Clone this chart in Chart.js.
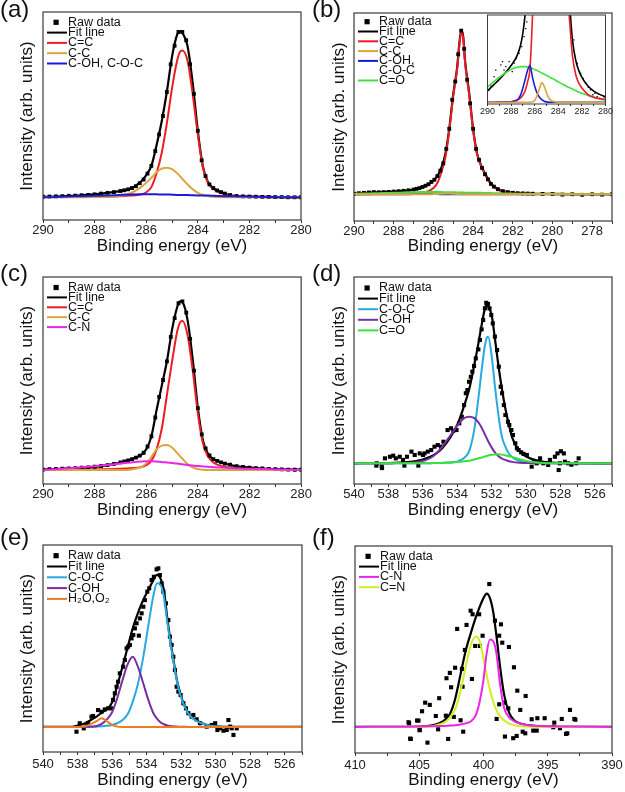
<!DOCTYPE html>
<html>
<head>
<meta charset="utf-8">
<script src="https://cdn.jsdelivr.net/npm/chart.js@4.4.1/dist/chart.umd.min.js"></script>
<style>
  body { margin: 0; background: #fff; }
  #page { position: relative; width: 625px; height: 792px; font-family: 'Liberation Sans', Arial, sans-serif; }
  .box { position: absolute; }
  .tag { position: absolute; font-size: 24px; line-height: 1; color: #111; }
</style>
</head>
<body>
<div id="page">
  <div class="box" style="left:0;top:0;width:312px;height:264px"><canvas id="pa"></canvas></div>
  <div class="box" style="left:312px;top:0;width:313px;height:264px"><canvas id="pb"></canvas></div>
  <div class="box" style="left:480px;top:10px;width:133px;height:112px"><canvas id="pbIn"></canvas></div>
  <div class="box" style="left:0;top:264px;width:312px;height:264px"><canvas id="pc"></canvas></div>
  <div class="box" style="left:312px;top:264px;width:313px;height:264px"><canvas id="pd"></canvas></div>
  <div class="box" style="left:0;top:528px;width:312px;height:264px"><canvas id="pe"></canvas></div>
  <div class="box" style="left:312px;top:528px;width:313px;height:264px"><canvas id="pf"></canvas></div>
  <div class="tag" style="left:0;top:-3px">(a)</div>
  <div class="tag" style="left:312px;top:-3px">(b)</div>
  <div class="tag" style="left:0;top:261px">(c)</div>
  <div class="tag" style="left:312px;top:261px">(d)</div>
  <div class="tag" style="left:0;top:525px">(e)</div>
  <div class="tag" style="left:312px;top:525px">(f)</div>
</div>
<script>
// ---- C 1s, panels (a) and (c): fit grid + raw energies
const eC1s = [290, 289.5, 289, 288.5, 288, 287.5, 287, 286.6, 286.2, 286, 285.8, 285.6, 285.4, 285.2, 285, 284.8, 284.7, 284.6, 284.4, 284.2, 284, 283.8, 283.6, 283.4, 283.2, 283, 282.6, 282.2, 281.5, 281, 280.5, 280];
const rawEAC = [290, 289.75, 289.5, 289.25, 289, 288.75, 288.5, 288.25, 288, 287.75, 287.5, 287.25, 287,
  286.85, 286.7, 286.55, 286.4, 286.25, 286.1, 285.95, 285.8, 285.65, 285.5, 285.35, 285.2, 285.05, 284.9, 284.75, 284.6, 284.45, 284.3, 284.15, 284, 283.85, 283.7, 283.55, 283.4, 283.25, 283.1, 282.95,
  282.75, 282.5, 282.25, 282, 281.75, 281.5, 281.25, 281, 280.75, 280.5, 280.25, 280];

// (a)
const rawA = [.003, .004, .005, .006, .008, .009, .011, .013, .016, .02, .024, .028, .034,
  .038, .043, .05, .06, .076, .096, .128, .17, .25, .34, .44, .57, .72, .82, .895, .895, .85, .72, .56, .36, .2, .115, .07, .05, .037, .028, .02,
  .012, .007, .005, .004, .003, .002, .002, .001, .001, 0, 0, 0];
const fitA = [.002, .004, .007, .011, .016, .024, .033, .047, .085, .12, .17, .28, .41, .57, .76, .88, .9, .89, .82, .62, .36, .165, .08, .05, .034, .022, .007, .004, .002, .001, 0, 0];
const ccA = [.001, .001, .002, .002, .003, .004, .006, .009, .015, .027, .055, .13, .24, .40, .59, .74, .785, .795, .74, .56, .34, .16, .075, .045, .028, .018, .008, .005, .003, .002, .001, .001];
const csA = [0, 0, 0, 0, .001, .003, .008, .022, .055, .078, .105, .135, .155, .16, .152, .13, .116, .10, .07, .043, .024, .012, .006, .003, .001, 0, 0, 0, 0, 0, 0, 0];
const cohA = [0, .002, .004, .006, .008, .01, .013, .015, .016, .016, .016, .016, .015, .015, .014, .013, .013, .012, .012, .011, .01, .009, .009, .008, .007, .006, .005, .004, .002, .001, 0, 0];

// (c)
const rawC = [.002, .004, .005, .007, .008, .01, .012, .014, .017, .021, .026, .032, .04,
  .045, .051, .058, .066, .076, .092, .125, .18, .28, .39, .48, .58, .71, .81, .89, .9, .84, .7, .53, .33, .19, .115, .077, .058, .048, .04, .034,
  .028, .02, .016, .012, .01, .008, .006, .004, .003, .002, .001, .001];
const fitC = [.002, .005, .008, .011, .016, .026, .04, .056, .08, .11, .18, .32, .45, .58, .75, .87, .9, .895, .8, .59, .33, .155, .085, .057, .045, .036, .022, .015, .007, .004, .002, .001];
const ccC = [.001, .001, .002, .002, .003, .004, .006, .009, .015, .025, .05, .11, .22, .40, .58, .74, .785, .797, .72, .53, .30, .14, .07, .04, .026, .018, .009, .005, .003, .002, .001, .001];
const csC = [0, 0, 0, 0, 0, 0, 0, .003, .015, .035, .07, .11, .13, .133, .12, .09, .075, .06, .032, .014, .005, .001, 0, 0, 0, 0, 0, 0, 0, 0, 0, 0];
const cnC = [0, .004, .009, .014, .02, .027, .034, .04, .045, .046, .046, .045, .043, .04, .037, .034, .032, .03, .027, .024, .021, .019, .017, .015, .013, .012, .009, .007, .005, .003, .001, 0];

// (b)
const eB = [290, 289.5, 289, 288.5, 288, 287.5, 287, 286.6, 286.2, 286, 285.8, 285.6, 285.4, 285.2, 285, 284.8, 284.7, 284.6, 284.5, 284.4, 284.2, 284, 283.8, 283.6, 283.4, 283.2, 283, 282.6, 282.2, 281.5, 281, 280, 279, 278, 277];
const fitB = [.002, .007, .01, .012, .015, .019, .025, .037, .058, .075, .1, .145, .22, .36, .55, .70, .82, .9, .87, .73, .56, .36, .225, .16, .115, .075, .048, .02, .011, .005, .003, .002, .001, 0, 0];
const ccB = [0, 0, .001, .001, .002, .003, .005, .008, .02, .034, .062, .12, .2, .35, .54, .69, .81, .89, .86, .72, .55, .355, .22, .155, .11, .07, .044, .018, .01, .004, .002, .001, 0, 0, 0];
const csB = [0, 0, 0, 0, 0, 0, 0, 0, 0, .001, .002, .003, .004, .004, .003, .002, .001, 0, 0, 0, 0, 0, 0, 0, 0, 0, 0, 0, 0, 0, 0, 0, 0, 0, 0];
const cohB = [0, 0, 0, 0, 0, 0, .001, .004, .005, .003, .001, 0, 0, 0, 0, 0, 0, 0, 0, 0, 0, 0, 0, 0, 0, 0, 0, 0, 0, 0, 0, 0, 0, 0, 0];
const coB = [.002, .004, .005, .007, .008, .01, .011, .012, .012, .012, .012, .012, .011, .011, .011, .01, .01, .01, .01, .009, .009, .009, .008, .008, .007, .007, .006, .005, .004, .003, .002, .001, 0, 0, 0];
const rawEB = [290, 289.75, 289.5, 289.25, 289, 288.75, 288.5, 288.25, 288, 287.75, 287.5, 287.25, 287,
  286.85, 286.7, 286.55, 286.4, 286.25, 286.1, 285.95, 285.8, 285.65, 285.5, 285.35, 285.2, 285.05, 284.9, 284.75, 284.6, 284.45, 284.3, 284.15, 284, 283.85, 283.7, 283.55, 283.4, 283.25, 283.1, 282.95,
  282.75, 282.5, 282.25, 282, 281.75, 281.5, 281.25, 281, 280.5, 280, 279.5, 279, 278.5, 278, 277.5, 277];
const rawB = [.003, .006, .008, .01, .012, .011, .012, .013, .015, .017, .019, .022, .026,
  .03, .034, .04, .047, .055, .068, .08, .1, .13, .17, .25, .36, .52, .62, .77, .9, .8, .63, .5, .36, .25, .19, .145, .11, .082, .057, .042,
  .028, .017, .012, .008, .006, .005, .004, .003, .002, .001, -.002, 0, -.003, 0, -.002, 0];

// (b) inset, zoomed intensity units
const eIn = [290, 289.5, 289, 288.5, 288, 287.5, 287.2, 287, 286.8, 286.6, 286.4, 286.2, 286, 285.8, 285.6, 285.4, 285.2, 285, 284.8, 284.6, 284.4, 284.2, 284, 283.6, 283.2, 283, 282.8, 282.5, 282.25, 282, 281.5, 281, 280.5, 280];
const fitIn = [.32, .48, .64, .82, 1.03, 1.3, 1.6, 1.95, 2.5, 3.3, 4.5, 6, 8, 11, 14, 18, 24, 32, 42, 47, 42, 32, 22, 9, 3.8, 2.6, 1.75, 1.15, .88, .7, .46, .31, .22, .15];
const ccIn = [0, 0, .005, .01, .015, .05, .2, .4, .65, .9, 1.03, .72, .45, .26, .14, .07, .03, .01, 0, 0, 0, 0, 0, 0, 0, 0, 0, 0, 0, 0, 0, 0, 0, 0];
const redIn = [0, 0, .005, .01, .015, .06, .12, .2, .33, .58, .95, 2.3, 4.2, 6.5, 10, 15, 20, 30, 40, 45, 40, 30, 20, 8, 3.2, 2.1, 1.3, .75, .53, .4, .22, .14, .1, .075];
const csIn = [0, 0, 0, 0, 0, 0, 0, 0, 0, 0, 0, .01, .05, .18, .38, .55, .45, .26, .12, .05, .02, .005, 0, 0, 0, 0, 0, 0, 0, 0, 0, 0, 0, 0];
const coIn = [.42, .57, .7, .82, .92, .98, 1.0, 1.0, 1.0, .99, .97, .95, .92, .89, .86, .82, .79, .75, .72, .68, .65, .61, .57, .5, .43, .40, .37, .32, .28, .25, .19, .14, .1, .065];
const rawEIn = [289.86, 289.72, 289.44, 289.3, 289.13, 288.87, 288.73, 288.6, 288.45, 288.17, 287.9, 287.75, 287.55, 287.32, 287.1, 286.9, 286.76, 286.67, 282.68, 282.4, 282.1, 281.9, 281.69, 281.46, 281.27, 281.07, 280.9, 280.7, 280.5, 280.28, 280.11, 280.0];
const rawIn = [.35, .46, .72, .9, .67, 1.05, 1.14, .9, 1.0, 1.14, .86, 1.09, 1.23, 1.37, 1.56, 1.84, 2.07, 2.26, 1.75, 1.09, .81, .67, .53, .42, .35, .21, .25, .16, .11, .07, .14, .05];

// (d) O 1s
const eD = [540, 538, 537.6, 537, 536.6, 536.2, 535.8, 535.4, 535, 534.6, 534.2, 533.9, 533.6, 533.3, 533, 532.8, 532.6, 532.4, 532.3, 532.2, 532, 531.8, 531.6, 531.4, 531.2, 531, 530.8, 530.5, 530.1, 529.6, 529, 528, 525];
const fitD = [0, .001, .002, .005, .009, .016, .028, .045, .072, .118, .18, .24, .325, .42, .56, .66, .77, .87, .895, .885, .84, .7, .55, .42, .31, .22, .145, .085, .045, .022, .008, .001, 0];
const cocD = [0, 0, 0, 0, 0, 0, 0, .001, .002, .004, .007, .014, .03, .07, .195, .34, .51, .66, .705, .715, .61, .43, .27, .15, .094, .055, .035, .018, .008, .004, .002, .001, 0];
const ohD = [0, 0, .001, .002, .004, .009, .019, .04, .078, .13, .185, .225, .255, .263, .255, .235, .205, .165, .145, .125, .09, .06, .04, .027, .019, .012, .008, .004, .002, .001, 0, 0, 0];
const coD = [0, 0, 0, 0, 0, 0, 0, .001, .002, .003, .005, .008, .011, .015, .021, .027, .032, .038, .041, .044, .048, .05, .051, .049, .045, .04, .036, .027, .016, .007, .002, 0, 0];
const rawED = [538.7, 538.68, 538.39, 538.37, 538.2, 537.91, 537.72, 537.57, 537.34, 537.15, 537.07, 536.92, 536.66, 536.47, 536.26, 536.22, 536.18, 535.99, 535.9, 535.71,
  535.51, 535.32, 535.13, 534.94, 534.8, 534.56, 534.36, 534.23, 534.04, 533.88, 533.73, 533.6, 533.5, 533.41, 533.31, 533.21, 533.12, 533.02, 532.92, 532.77,
  532.68, 532.58, 532.49, 532.39, 532.31, 532.21, 532.12, 532.02, 531.93, 531.81, 531.68, 531.58, 531.47, 531.39, 531.29, 531.2, 531.05, 530.97, 530.85, 530.76,
  530.62, 530.53, 530.43, 530.28, 530.14, 529.95, 529.67, 529.53, 529.38, 529.18, 528.99, 528.71, 528.61, 528.32, 528.17, 528.1, 528.03, 527.97, 527.8, 527.74,
  527.55, 527.36, 527.08, 526.94];
const rawD = [-.013, 0, -.019, -.027, .028, .037, .043, .028, .037, .019, -.013, .037, .066, .047, -.013, .009, .056, .047, .056, .066,
  .075, .094, .103, .094, .122, .188, .198, .184, .188, .226, .263, .329, .396, .414, .461, .489, .518, .55, .593, .644,
  .697, .757, .81, .876, .907, .9, .876, .838, .791, .716, .64, .546, .433, .396, .329, .273, .235, .216, .188, .16,
  .113, .085, .075, .062, .053, .047, -.019, .009, 0, .028, 0, -.009, .019, .037, .056, -.038, 0, .068, .056, .009,
  0, -.008, 0, .028];

// (e) O 1s
const eE = [540, 538.5, 538, 537.6, 537.2, 536.9, 536.6, 536.3, 536, 535.7, 535.4, 535.1, 534.8, 534.5, 534.2, 533.9, 533.6, 533.4, 533.2, 533, 532.8, 532.5, 532.2, 531.9, 531.6, 531.3, 531, 530.6, 530, 529, 525];
const fitE = [0, 0, .008, .02, .043, .061, .085, .105, .145, .245, .355, .47, .585, .675, .75, .81, .87, .9, .88, .81, .64, .43, .255, .15, .085, .05, .032, .015, .004, 0, 0];
const cocE = [0, 0, 0, 0, 0, .002, .004, .007, .012, .022, .04, .075, .15, .255, .41, .6, .78, .85, .84, .77, .62, .42, .25, .145, .082, .048, .03, .014, .004, 0, 0];
const ohE = [0, 0, 0, .001, .003, .006, .018, .045, .087, .17, .275, .37, .415, .355, .26, .16, .08, .05, .028, .016, .009, .004, .002, .001, 0, 0, 0, 0, 0, 0, 0];
const h2oE = [0, 0, 0, .004, .018, .035, .051, .034, .012, .002, 0, 0, 0, 0, 0, 0, 0, 0, 0, 0, 0, 0, 0, 0, 0, 0, 0, 0, 0, 0, 0];
const rawEE = [538.06, 537.87, 537.64, 537.48, 537.39, 537.19, 537.1, 536.81, 536.61, 536.42, 536.23, 536.03, 535.94, 535.84, 535.74, 535.65, 535.55, 535.36, 535.26, 535.16,
  535.07, 534.97, 534.87, 534.77, 534.68, 534.58, 534.45, 534.39, 534.29, 534.19, 534.1, 533.96, 533.85, 533.71, 533.58, 533.42, 533.32, 533.23, 533.13, 533.03,
  532.88, 532.74, 532.65, 532.55, 532.45, 532.36, 532.26, 532.16, 532.03, 531.87, 531.72, 531.58, 531.39, 531.29, 531.1, 530.91, 530.52, 530.23, 530.03, 529.9,
  529.74, 529.55, 529.36, 529.26, 529.16, 529.07, 528.97, 528.78];
const rawE = [-.028, .022, -.008, .012, .022, .061, .065, .1, .09, .104, .11, .11, .16, .199, .238, .268, .317, .356, .396, .465,
  .475, .485, .524, .544, .583, .613, .54, .642, .672, .711, .75, .80, .82, .869, .888, .932, .938, .898, .849, .80,
  .731, .632, .534, .485, .415, .337, .238, .209, .189, .14, .11, .081, .061, .071, .045, .022, .002, .012, .022, -.018,
  -.008, -.022, -.018, .041, .002, -.008, -.047, -.008];

// (f) N 1s
const eF = [410, 406, 405, 404.4, 403.9, 403.4, 403, 402.6, 402.2, 401.8, 401.4, 401, 400.6, 400.3, 400, 399.75, 399.5, 399.25, 399, 398.7, 398.4, 398, 397.6, 397, 396.4, 395.6, 394, 390];
const fitF = [0, 0, .002, .006, .013, .027, .048, .09, .19, .35, .51, .63, .74, .81, .87, .9, .87, .78, .62, .4, .22, .095, .043, .02, .01, .004, .001, 0];
const cnF = [0, .002, .003, .004, .005, .006, .007, .009, .012, .017, .024, .037, .08, .17, .32, .5, .59, .58, .5, .28, .13, .065, .038, .02, .01, .006, .003, 0];
const cnnF = [0, 0, 0, .001, .006, .018, .032, .065, .12, .24, .4, .55, .61, .58, .46, .35, .25, .17, .115, .07, .045, .022, .012, .004, .001, 0, 0, 0];
const rawEF = [405.84, 405.79, 405.71, 405.66, 405.17, 405.06, 404.98, 404.96, 404.78, 404.54, 404.36, 404.18, 403.71, 403.53, 403.45, 402.93, 402.88, 402.75, 402.62, 402.52,
  402.31, 402.21, 402.05, 401.78, 401.68, 401.63, 401.58, 401.45, 401.32, 401.0, 400.9, 400.85, 400.65, 400.34, 400.28, 400.07, 399.55, 399.11, 398.98, 398.78,
  398.78, 398.64, 398.54, 398.36, 398.33, 398.07, 398.02, 397.69, 397.63, 397.42, 397.37, 397.14, 396.95, 396.75, 396.72, 396.25, 396.13, 395.86, 395.81, 395.24,
  394.57, 394.49, 394.05, 393.91, 393.58, 393.48, 393.27, 392.93, 392.85];
const rawF = [.032, .025, -.079, -.081, .043, .043, -.018, -.022, .106, .164, -.106, .149, .074, -.016, .194, .076, .329, -.081, .365, .268,
  .068, .40, .662, .045, .392, .272, -.032, .52, .689, .785, .324, .761, .547, .761, .547, .616, .965, .718, .054, .616,
  .153, .693, .569, .164, -.065, .126, .54, -.076, .403, -.061, .245, .115, -.032, -.043, .209, .052, -.025, -.025, .059, .059,
  -.002, .029, -.009, .054, -.047, -.043, .115, .054, .049];

const RED = '#ec1c24', TAN = '#dca43c', BLUE = '#1a1ad8', GREEN = '#3ee03e', MAGENTA = '#ec24ec',
  CYAN = '#2aa9e0', PURPLE = '#7a2ea0', ORANGE = '#f07a1e', YELLOW = '#d2ee1e';

Chart.defaults.font.family = "'Liberation Sans', Arial, sans-serif";
Chart.defaults.color = '#111';

const pts = (xs, ys) => xs.map((x, i) => ({ x, y: ys[i] }));

function line(label, xs, ys, color, order, width) {
  return {
    label, data: pts(xs, ys), showLine: true, borderColor: color, backgroundColor: color,
    borderWidth: width || 2, pointRadius: 0, cubicInterpolationMode: 'monotone', order
  };
}
function raw(xs, ys, order, r) {
  return {
    label: 'Raw data', data: pts(xs, ys), showLine: false, pointStyle: 'rect',
    pointRadius: r || 2.7, backgroundColor: '#000', borderWidth: 0, order
  };
}

// full box round the plot area; the inset also gets a white fill
const frame = {
  id: 'frame',
  beforeDraw(chart, args, opts) {
    if (!opts.fill) return;
    const { ctx, chartArea: a } = chart;
    ctx.save();
    ctx.fillStyle = opts.fill;
    ctx.fillRect(a.left, a.top, a.right - a.left, a.bottom - a.top);
    ctx.restore();
  },
  afterDatasetsDraw(chart, args, opts) {
    const { ctx, chartArea: a } = chart;
    ctx.save();
    ctx.strokeStyle = '#3a3a3a';
    ctx.lineWidth = opts.width || 1.2;
    ctx.strokeRect(a.left, a.top, a.right - a.left, a.bottom - a.top);
    ctx.restore();
  }
};

// legend in the top-left corner of the plot, built from the datasets
const keyBox = {
  id: 'keyBox',
  afterDraw(chart, args, opts) {
    if (!opts.show) return;
    const { ctx, chartArea: a } = chart;
    ctx.save();
    ctx.font = "12.5px 'Liberation Sans', Arial, sans-serif";
    ctx.textBaseline = 'middle';
    let row = 0;
    chart.data.datasets.forEach(ds => {
      const lines = ds.label.split('\n');
      const y = a.top + opts.top + row * opts.gap;
      const x0 = a.left + 4;
      if (ds.showLine) {
        ctx.strokeStyle = ds.borderColor;
        ctx.lineWidth = 2;
        ctx.beginPath();
        ctx.moveTo(x0, y);
        ctx.lineTo(x0 + 20, y);
        ctx.stroke();
      } else {
        ctx.fillStyle = '#000';
        ctx.fillRect(x0 + 6.5, y - 2.6, 5.2, 5.2);
      }
      ctx.fillStyle = '#111';
      lines.forEach((t, k) => ctx.fillText(t, x0 + 21, y + k * opts.gap));
      row += lines.length;
    });
    ctx.restore();
  }
};

function panel(id, cfg) {
  const el = document.getElementById(id);
  const W = el.parentNode.clientWidth, H = el.parentNode.clientHeight;
  const a = cfg.area;
  const lab = cfg.labelEvery;
  return new Chart(el, {
    type: 'scatter',
    data: { datasets: cfg.datasets },
    plugins: [frame, keyBox],
    options: {
      responsive: true, maintainAspectRatio: false, animation: false, events: [],
      layout: { padding: { left: 0, top: a.t, right: W - a.r, bottom: 0 } },
      plugins: {
        legend: { display: false }, tooltip: { enabled: false },
        frame: { fill: cfg.fill, width: cfg.small ? 1 : 1.2 },
        keyBox: { show: !cfg.small, top: cfg.keyTop || 10.3, gap: cfg.keyGap || 10.3 }
      },
      scales: {
        x: {
          type: 'linear', reverse: true, min: cfg.x[0], max: cfg.x[1],
          ticks: {
            stepSize: cfg.step, autoSkip: false, maxRotation: 0, padding: cfg.tickPad || 0,
            font: { size: cfg.small ? 9 : 13 }, color: '#222',
            callback: v => (Math.abs(v % lab) < 1e-6 ? v : '')
          },
          grid: { display: true, drawOnChartArea: false, drawTicks: true, tickLength: cfg.small ? 2 : 3, color: '#333' },
          border: { display: false },
          title: {
            display: !cfg.small, text: 'Binding energy (eV)', font: { size: 17 }, color: '#111',
            padding: { top: 0, bottom: cfg.titlePad || 7.8 }
          },
          afterFit: s => { s.height = H - a.b; }
        },
        y: {
          min: cfg.y[0], max: cfg.y[1],
          ticks: { display: false },
          grid: { display: false },
          border: { display: false },
          title: {
            display: !cfg.small, text: 'Intensity (arb. units)', font: { size: 17 }, color: '#111',
            padding: { top: 17, bottom: 0 }
          },
          afterFit: s => { s.width = a.l; }
        }
      }
    }
  });
}

panel('pa', {
  area: { l: 43, t: 12, r: 301, b: 220 }, x: [280, 290], step: 1, labelEvery: 2, y: [-0.123, 1.003],
  datasets: [
    raw(rawEAC, rawA, 3),
    line('Fit line', eC1s, fitA, '#000', 5, 2.2),
    line('C=C', eC1s, ccA, RED, 4),
    line('C-C', eC1s, csA, TAN, 2),
    line('C-OH, C-O-C', eC1s, cohA, BLUE, 1)
  ]
});

panel('pb', {
  area: { l: 42, t: 13, r: 300, b: 221 }, x: [277, 290], step: 1, labelEvery: 2, y: [-0.147, 0.997],
  keyTop: 8.7, keyGap: 9.8,
  datasets: [
    raw(rawEB, rawB, 4),
    line('Fit line', eB, fitB, '#000', 6, 2.2),
    line('C=C', eB, ccB, RED, 5),
    line('C-C', eB, csB, TAN, 1),
    line('C-OH,\nC-O-C', eB, cohB, BLUE, 3),
    line('C=O', eB, coB, GREEN, 2)
  ]
});

panel('pbIn', {
  small: true, fill: '#fff',
  area: { l: 7, t: 5, r: 127, b: 94 }, x: [280, 290], step: 1, labelEvery: 2, y: [-0.05, 2.45],
  datasets: [
    raw(rawEIn, rawIn, 5, 0.9),
    line('Fit line', eIn, fitIn, '#000', 6, 1.6),
    line('C=C', eIn, redIn, RED, 3, 1.6),
    line('C-C', eIn, csIn, TAN, 1, 1.6),
    line('C-OH, C-O-C', eIn, ccIn, BLUE, 2, 1.6),
    line('C=O', eIn, coIn, GREEN, 4, 1.6)
  ]
});

panel('pc', {
  area: { l: 43, t: 13, r: 302, b: 220 }, x: [280, 290], step: 1, labelEvery: 2, y: [-0.075, 1.03],
  keyTop: 10.5, keyGap: 9.9,
  datasets: [
    raw(rawEAC, rawC, 3),
    line('Fit line', eC1s, fitC, '#000', 5, 2.2),
    line('C=C', eC1s, ccC, RED, 4),
    line('C-C', eC1s, csC, TAN, 2),
    line('C-N', eC1s, cnC, MAGENTA, 1)
  ]
});

panel('pd', {
  area: { l: 42, t: 13, r: 300, b: 220 }, x: [525, 540], step: 1, labelEvery: 2, y: [-0.117, 1.053],
  keyTop: 11, keyGap: 10.6,
  datasets: [
    raw(rawED, rawD, 4, 2.9),
    line('Fit line', eD, fitD, '#000', 5, 2.2),
    line('C-O-C', eD, cocD, CYAN, 3),
    line('C-OH', eD, ohD, PURPLE, 2),
    line('C=O', eD, coD, GREEN, 1)
  ]
});

panel('pe', {
  area: { l: 43, t: 17, r: 302, b: 224 }, x: [525, 540], step: 1, labelEvery: 2, y: [-0.148, 1.076],
  keyTop: 10.7, keyGap: 10.8, tickPad: 2, titlePad: 1.3,
  datasets: [
    raw(rawEE, rawE, 4, 2.9),
    line('Fit line', eE, fitE, '#000', 5, 2.2),
    line('C-O-C', eE, cocE, CYAN, 3),
    line('C-OH', eE, ohE, PURPLE, 2),
    line('H\u2082O,O\u2082', eE, h2oE, ORANGE, 1)
  ]
});

panel('pf', {
  area: { l: 43, t: 18, r: 300, b: 225 }, x: [390, 410], step: 2.5, labelEvery: 5, y: [-0.176, 1.222],
  keyTop: 10.3, keyGap: 10.3, tickPad: 2, titlePad: 1,
  datasets: [
    raw(rawEF, rawF, 3, 2.9),
    line('Fit line', eF, fitF, '#000', 4, 2.2),
    line('C-N', eF, cnF, MAGENTA, 1),
    line('C=N', eF, cnnF, YELLOW, 2)
  ]
});
</script>
</body>
</html>
